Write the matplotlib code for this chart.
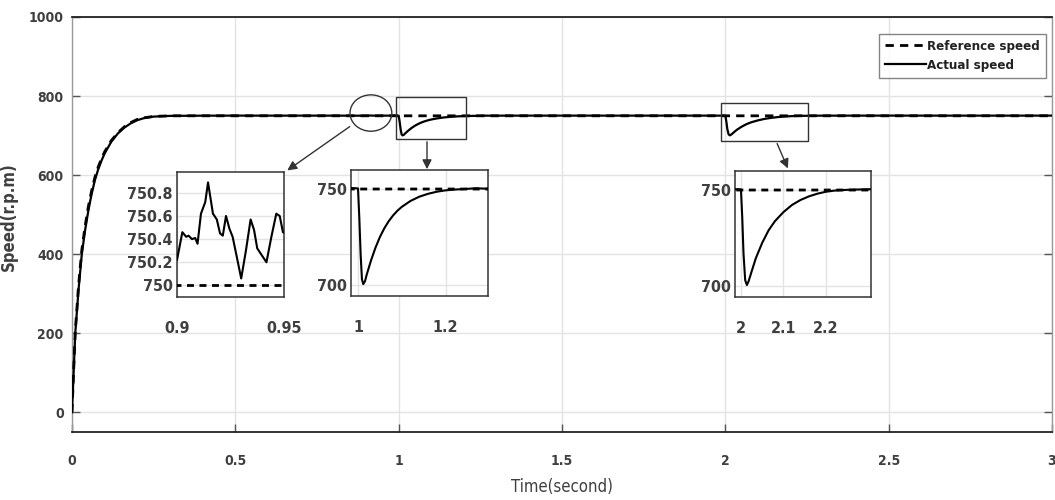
import matplotlib
matplotlib.use("Agg")
import matplotlib.pyplot as plt
from matplotlib import font_manager
from matplotlib.patches import Ellipse, Rectangle, FancyArrowPatch

# ---- data -------------------------------------------------------------
t_actual = [0, 0.005, 0.01, 0.02, 0.03, 0.04, 0.05, 0.06, 0.07, 0.08, 0.09, 0.10,
            0.12, 0.14, 0.16, 0.18, 0.20, 0.22, 0.25, 0.30,
            0.40, 0.50, 0.60, 0.70, 0.80, 0.88,
            0.9, 0.9025, 0.9043, 0.9054, 0.907, 0.9085, 0.9096, 0.9112, 0.9132,
            0.9145, 0.9168, 0.9186, 0.9201, 0.9214, 0.9229, 0.9245, 0.926, 0.9279,
            0.93, 0.9322, 0.9344, 0.936, 0.9375, 0.94, 0.9418, 0.9441, 0.9464,
            0.948, 0.9495,
            0.96, 0.98, 0.995, 1.0, 1.003, 1.006, 1.009, 1.012, 1.016, 1.02, 1.03,
            1.04, 1.05, 1.06, 1.07, 1.08, 1.09, 1.10, 1.12, 1.14, 1.16, 1.18, 1.20,
            1.22, 1.25, 1.27, 1.29, 1.32, 1.5, 1.7, 1.9,
            1.995, 2.0, 2.003, 2.006, 2.01, 2.014, 2.018, 2.025, 2.035, 2.05, 2.065,
            2.08, 2.10, 2.12, 2.14, 2.16, 2.18, 2.20, 2.22, 2.25, 2.28, 2.30, 2.5,
            2.8, 3.0]
v_actual = [0, 100, 200, 310, 400, 460, 510, 552, 587, 614, 636, 655,
            684, 705, 720, 731, 739, 744, 748, 749.8,
            750.3, 750.5, 750.4, 750.5, 750.4, 750.3,
            750.22, 750.46, 750.42, 750.43, 750.40, 750.41, 750.36, 750.62, 750.72,
            750.89, 750.62, 750.57, 750.45, 750.43, 750.60, 750.49, 750.42, 750.25,
            750.06, 750.30, 750.57, 750.48, 750.32, 750.25, 750.20, 750.42, 750.62,
            750.60, 750.46,
            750.4, 750.5, 750.4, 750.3, 735, 716, 703, 700.5, 702, 705.5, 713,
            719.5, 725, 729.5, 733.2, 736.2, 738.7, 740.7, 743.8, 746, 747.5, 748.6,
            749.3, 749.7, 750.1, 750.4, 750.2, 750.4, 750.5, 750.4, 750.5,
            750.4, 750.3, 736, 717, 703, 700.5, 702.5, 707.5, 714.5, 722.5, 729,
            733.8, 738.5, 742.2, 744.8, 746.7, 748.1, 749.1, 749.7, 750.1, 750.3,
            750.4, 750.5, 750.4, 750.5]

t_ref = [0, 0.005, 0.01, 0.02, 0.03, 0.04, 0.05, 0.06, 0.07, 0.08, 0.09, 0.10,
         0.12, 0.14, 0.16, 0.18, 0.20, 0.22, 0.25, 0.30, 3.0]
v_ref = [0, 105, 205, 320, 410, 470, 520, 560, 594, 620, 641, 659,
         687, 707, 722, 733, 741, 745, 748.5, 750, 750]

x_ticks = [0, 0.5, 1, 1.5, 2, 2.5, 3]
x_ticklabels = ["0", "0.5", "1", "1.5", "2", "2.5", "3"]
y_ticks = [0, 200, 400, 600, 800, 1000]

inset1_yticks = [750, 750.2, 750.4, 750.6, 750.8]
inset1_yticklabels = ["750", "750.2", "750.4", "750.6", "750.8"]
inset1_xticks = [0.9, 0.95]
inset1_xticklabels = ["0.9", "0.95"]
inset2_xticks = [1, 1.2]
inset2_xticklabels = ["1", "1.2"]
inset3_xticks = [2, 2.1, 2.2]
inset3_xticklabels = ["2", "2.1", "2.2"]
dip_yticks = [700, 750]
dip_yticklabels = ["700", "750"]

# ---- fonts -------------------------------------------------------------
available = {f.name for f in font_manager.fontManager.ttflist}
narrow = "Liberation Sans Narrow" if "Liberation Sans Narrow" in available else "DejaVu Sans"
plt.rcParams["font.family"] = [narrow, "DejaVu Sans"]
plt.rcParams["font.stretch"] = "condensed"

GRID = "#e3e3e3"
TXT = "#3f3f3f"

fig = plt.figure(figsize=(10.55, 5.0), dpi=100)
ax = fig.add_axes([72 / 1055, 68 / 500, 980 / 1055, 415 / 500])

ax.plot(t_ref, v_ref, color="black", lw=2.0, ls=(0, (3, 2.2)), label="Reference speed", zorder=3)
ax.plot(t_actual, v_actual, color="black", lw=1.6, label="Actual speed", zorder=4)

ax.set_xlim(0, 3)
ax.set_ylim(-50, 1000)
ax.set_xticks(x_ticks)
ax.set_xticklabels(x_ticklabels)
ax.set_yticks(y_ticks)
ax.grid(True, color=GRID, lw=1.0)
ax.tick_params(direction="in", length=6, width=1, colors="#555555", labelcolor=TXT,
               labelsize=10, right=True, top=False)
ax.tick_params(axis="x", pad=16)
ax.tick_params(axis="y", pad=6)
for lab in ax.get_xticklabels() + ax.get_yticklabels():
    lab.set_fontweight("bold")
for side in ["top", "bottom"]:
    ax.spines[side].set_color("#222222")
    ax.spines[side].set_linewidth(1.3)
for side in ["left", "right"]:
    ax.spines[side].set_color("#9a9a9a")
    ax.spines[side].set_linewidth(1.0)

ax.set_xlabel("Time(second)", fontsize=12, color=TXT)
ax.xaxis.set_label_coords(0.5, -0.111)
ax.set_ylabel("Speed(r.p.m)", fontsize=12, color=TXT, fontweight="bold",
              family=["DejaVu Sans"])
ax.yaxis.set_label_coords(-0.055, 0.52)

leg = ax.legend(loc="upper right", bbox_to_anchor=(0.9935, 0.959), borderaxespad=0,
                frameon=True, fancybox=False, edgecolor="#666666", handlelength=3.1,
                handletextpad=0.1, borderpad=0.45, labelspacing=0.45,
                prop={"weight": "bold", "size": 9.5})
leg.get_frame().set_linewidth(1.0)
for txt in leg.get_texts():
    txt.set_color("#222222")

# zoom markers on the main trace
ax.add_patch(Ellipse((0.915, 757), 0.128, 92, fill=False, ec="#333333", lw=1.0, zorder=5))
ax.add_patch(Rectangle((0.993, 691), 0.213, 106, fill=False, ec="#333333", lw=1.0, zorder=5))
ax.add_patch(Rectangle((1.987, 686), 0.266, 96, fill=False, ec="#333333", lw=1.0, zorder=5))


def make_inset(rect, xlim, ylim, xticks, xlabels, yticks, ylabels):
    ia = fig.add_axes(rect)
    ia.plot(t_ref, v_ref, color="black", lw=2.0, ls=(0, (2.5, 2.0)), zorder=3)
    ia.plot(t_actual, v_actual, color="black", lw=1.5, zorder=4)
    ia.set_xlim(*xlim)
    ia.set_ylim(*ylim)
    ia.set_xticks(xticks)
    ia.set_xticklabels(xlabels)
    ia.set_yticks(yticks)
    ia.set_yticklabels(ylabels)
    ia.grid(True, color=GRID, lw=1.0)
    ia.tick_params(direction="in", length=0, labelsize=11.5, labelcolor=TXT)
    ia.tick_params(axis="x", pad=17)
    ia.tick_params(axis="y", pad=3)
    for lab in ia.get_xticklabels() + ia.get_yticklabels():
        lab.set_fontweight("bold")
    for s in ia.spines.values():
        s.set_color("#333333")
        s.set_linewidth(1.1)
    return ia


make_inset([177 / 1055, 203 / 500, 107 / 1055, 125 / 500], (0.9, 0.95), (749.9, 750.98),
           inset1_xticks, inset1_xticklabels, inset1_yticks, inset1_yticklabels)
make_inset([351 / 1055, 204 / 500, 137 / 1055, 126 / 500], (0.984, 1.297), (694.3, 759.9),
           inset2_xticks, inset2_xticklabels, dip_yticks, dip_yticklabels)
make_inset([735 / 1055, 203 / 500, 136 / 1055, 126 / 500], (1.986, 2.306), (694.3, 759.9),
           inset3_xticks, inset3_xticklabels, dip_yticks, dip_yticklabels)

# arrows from the markers to the magnified views
arrow = dict(arrowstyle="-|>", color="#333333", lw=1.0, mutation_scale=14)
for start, end in [((352, 375), (285, 328)),
                   ((427, 361), (427, 328)),
                   ((776, 359), (789, 329))]:
    fig.add_artist(FancyArrowPatch(
        (start[0] / 1055, start[1] / 500), (end[0] / 1055, end[1] / 500),
        transform=fig.transFigure, **arrow))

fig.savefig("out.png", dpi=100)
